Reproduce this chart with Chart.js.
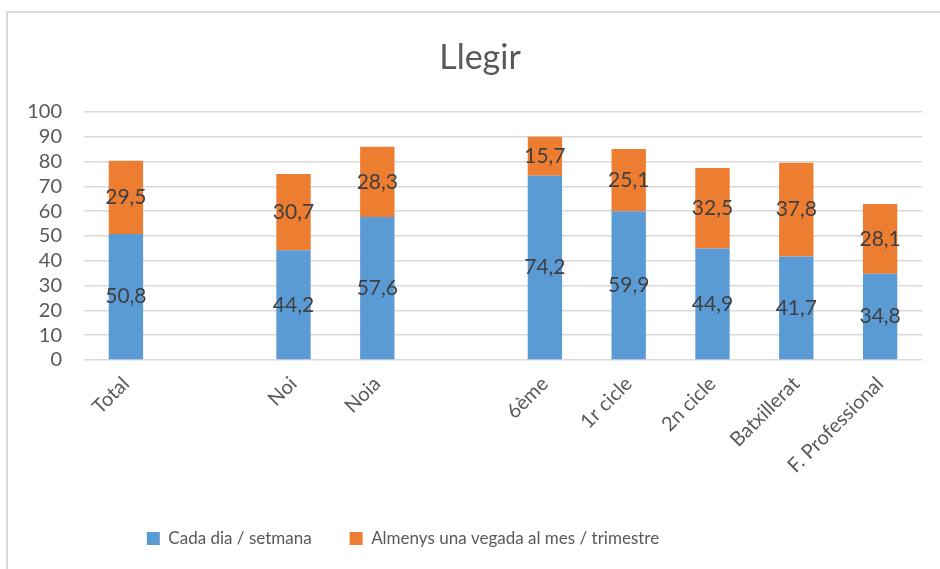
<!DOCTYPE html>
<html>
<head>
<meta charset="utf-8">
<script src="https://cdn.jsdelivr.net/npm/chart.js@4"></script>
<style>
    html, body { margin: 0; padding: 0; background: #fff; }
    #wrap { width: 940px; height: 569px; position: relative; }
</style>
</head>
<body>
<div id="wrap"><canvas id="chart" width="940" height="569"></canvas></div>
<script>
// Chart data (empty labels are the gaps between groups)
const categories = ['Total', '', 'Noi', 'Noia', '', '6ème', '1r cicle', '2n cicle', 'Batxillerat', 'F. Professional'];
const cadaDia = [50.8, null, 44.2, 57.6, null, 74.2, 59.9, 44.9, 41.7, 34.8];
const almenysUna = [29.5, null, 30.7, 28.3, null, 15.7, 25.1, 32.5, 37.8, 28.1];
const yTicks = [0, 10, 20, 30, 40, 50, 60, 70, 80, 90, 100];

const fontFamily = "Lato, 'Open Sans', sans-serif";
const textColor = '#595959';

// frame around the chart, like the office chart border
const framePlugin = {
    id: 'frame',
    beforeDraw(chart) {
        const ctx = chart.ctx;
        ctx.save();
        ctx.fillStyle = '#fff';
        ctx.fillRect(0, 0, chart.width, chart.height);
        ctx.strokeStyle = '#d9d9d9';
        ctx.lineWidth = 2;
        ctx.beginPath();
        ctx.moveTo(7, chart.height + 5);
        ctx.lineTo(7, 12);
        ctx.lineTo(chart.width + 5, 12);
        ctx.stroke();
        ctx.restore();
    }
};

// title and legend are not centred on the plot in the original
const boxShift = {
    id: 'boxShift',
    afterLayout(chart) {
        chart.legend.left -= 58;
        chart.legend.right -= 58;
        chart.titleBlock.left += 19;
        chart.titleBlock.right += 19;
    }
};

// value labels in the middle of every segment
const valueLabels = {
    id: 'valueLabels',
    afterDatasetsDraw(chart) {
        const ctx = chart.ctx;
        ctx.save();
        ctx.font = `21px ${fontFamily}`;
        ctx.fillStyle = '#404040';
        ctx.textAlign = 'center';
        ctx.textBaseline = 'middle';
        chart.data.datasets.forEach((ds, i) => {
            const meta = chart.getDatasetMeta(i);
            meta.data.forEach((bar, j) => {
                const v = ds.data[j];
                if (v === null) return;
                const y = (bar.y + bar.base) / 2;
                ctx.fillText(v.toFixed(1).replace('.', ','), bar.x, y);
            });
        });
        ctx.restore();
    }
};

new Chart(document.getElementById('chart'), {
    type: 'bar',
    data: {
        labels: categories,
        datasets: [
            {
                label: 'Cada dia / setmana',
                data: cadaDia,
                backgroundColor: '#5b9bd5',
                categoryPercentage: 1,
                barPercentage: 0.41
            },
            {
                label: 'Almenys una vegada al mes / trimestre',
                data: almenysUna,
                backgroundColor: '#ed7d31',
                categoryPercentage: 1,
                barPercentage: 0.41
            }
        ]
    },
    options: {
        responsive: false,
        animation: false,
        layout: { padding: { left: 0, right: 18, top: 0, bottom: 12 } },
        scales: {
            x: {
                stacked: true,
                grid: { display: false, drawTicks: false },
                border: { display: false },
                ticks: {
                    color: textColor,
                    font: { family: fontFamily, size: 20 },
                    minRotation: 45,
                    maxRotation: 45,
                    autoSkip: false,
                    padding: 12
                },
                afterFit(scale) { scale.height = 132; }
            },
            y: {
                stacked: true,
                min: 0,
                max: 100,
                grid: { color: '#d9d9d9', lineWidth: 1.5, drawTicks: false },
                border: { display: false },
                afterBuildTicks(scale) { scale.ticks = yTicks.map(v => ({ value: v })); },
                ticks: {
                    color: textColor,
                    font: { family: fontFamily, size: 20 },
                    autoSkip: false,
                    padding: 22
                },
                afterFit(scale) { scale.width = 84; }
            }
        },
        plugins: {
            title: {
                display: true,
                text: 'Llegir',
                color: textColor,
                font: { family: fontFamily, size: 34, weight: 'normal' },
                padding: { top: 38, bottom: 33 }
            },
            legend: {
                position: 'bottom',
                labels: {
                    color: textColor,
                    font: { family: fontFamily, size: 17 },
                    boxWidth: 13,
                    boxHeight: 13,
                    padding: 38
                }
            },
            tooltip: { enabled: false }
        }
    },
    plugins: [framePlugin, boxShift, valueLabels]
});
</script>
</body>
</html>
